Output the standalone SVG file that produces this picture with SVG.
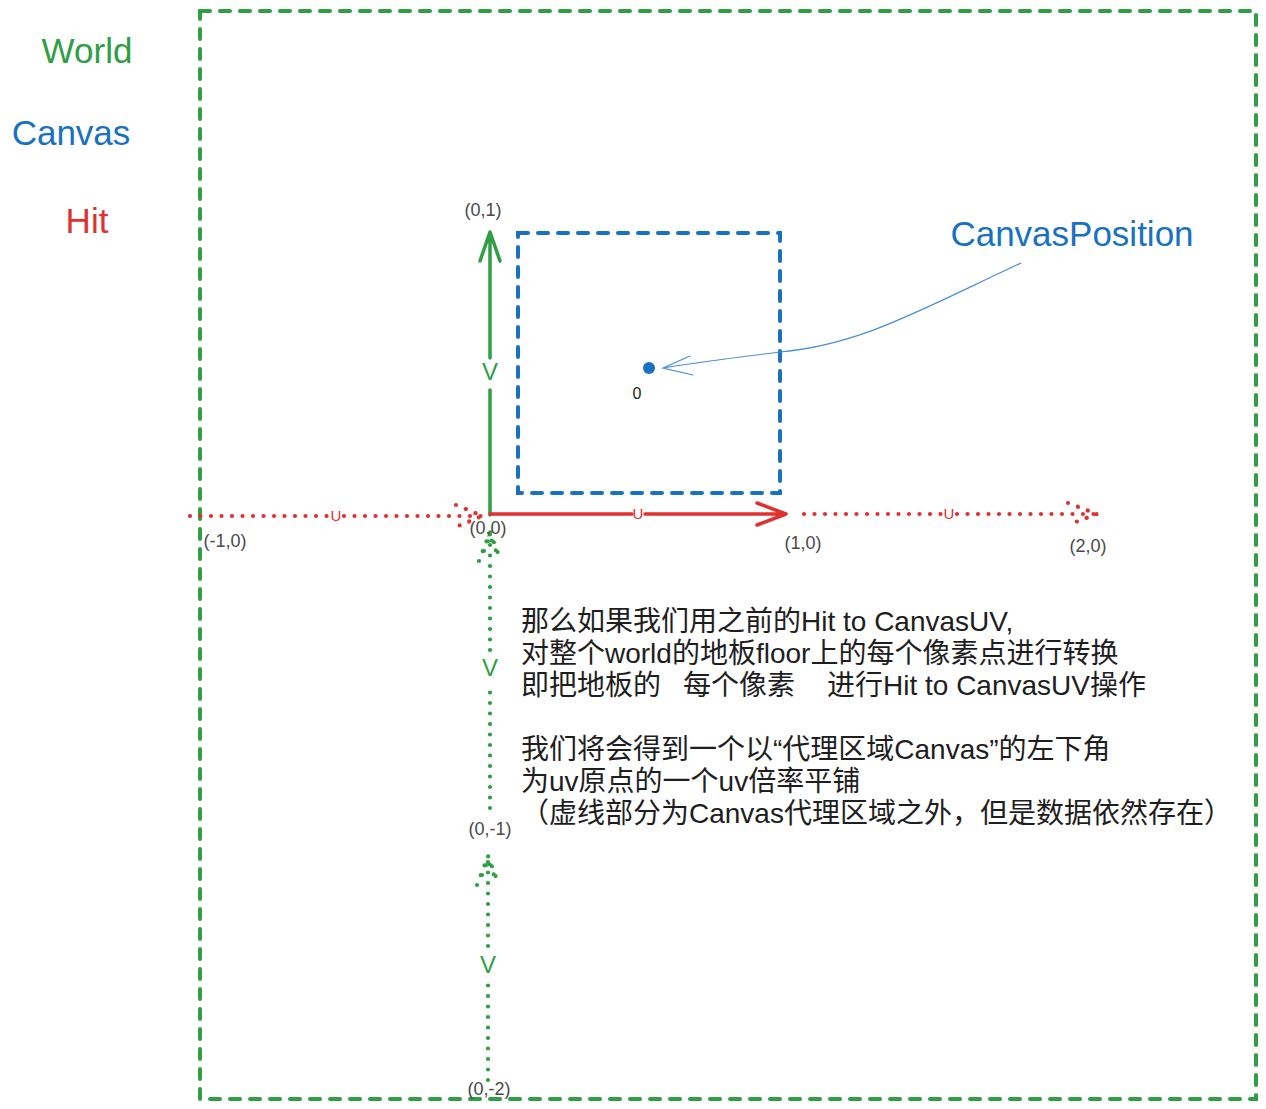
<svg xmlns="http://www.w3.org/2000/svg" width="1266" height="1109" viewBox="0 0 1266 1109">
<style>
text{font-family:"Liberation Sans","Noto Sans CJK SC",sans-serif}
.g{stroke:#2f9e44}.r{stroke:#e03131}.b{stroke:#1971c2}
.solid{fill:none;stroke-width:3.5;stroke-linecap:round;stroke-linejoin:round}
.dash{fill:none;stroke-width:4;stroke-linecap:round;stroke-dasharray:10 10}
.dot{fill:none;stroke-width:4.2;stroke-linecap:round;stroke-dasharray:0 10.5}
.coord{font-size:18px;fill:#4a4a4a;text-anchor:middle}
.lbl{font-size:35px;text-anchor:middle}
.main{font-size:28px;fill:#1e1e1e}
</style>
<rect width="1266" height="1109" fill="#fff"/>

<g id="legend">
<text class="lbl" x="87" y="63" fill="#2f9e44">World</text>
<text class="lbl" x="71" y="145" fill="#1971c2">Canvas</text>
<text class="lbl" x="87" y="233" fill="#e03131">Hit</text>
</g>

<g id="world">
<rect class="dash g" x="200" y="11" width="1056" height="1088"/>
</g>

<g id="canvas">
<rect class="dash b" x="518" y="233" width="262" height="260"/>
</g>

<g id="canvas-position">
<circle cx="649" cy="368" r="6" fill="#1971c2"/>
<text x="637" y="399" font-size="16" fill="#1e1e1e" text-anchor="middle">0</text>
<text x="1072" y="246" font-size="35" fill="#1971c2" text-anchor="middle">CanvasPosition</text>
</g>

<g id="connectors">
<!-- green solid V axis -->
<path class="solid g" d="M490,515 V390 M490,358 V232 M480,261 L490,232 L500,261"/>
<text x="490" y="380" font-size="24" fill="#2f9e44" text-anchor="middle">V</text>
<!-- red solid U axis -->
<path class="solid r" d="M490,514 H632 M645,514 H786 M757,503 L786,514 L757,525"/>
<text x="638" y="519" font-size="15" fill="#e03131" text-anchor="middle">U</text>
<!-- red dotted left -->
<path class="dot r" d="M190,516 H329 M344,516 H482 M456,505 L482,516 L456,527 M466,509 L482,516 L466,523"/>
<text x="336" y="521" font-size="15" fill="#e03131" text-anchor="middle">U</text>
<!-- red dotted right -->
<path class="dot r" d="M804,514 H942 M957,514 H1097 M1068,503 L1097,514 L1068,525 M1078,507 L1097,514 L1078,521"/>
<text x="949" y="519" font-size="15" fill="#e03131" text-anchor="middle">U</text>
<!-- green dotted lower 1 -->
<path class="dot g" d="M490,808 V684 M490,650 V532 M479,561 L490,532 L501,561 M484,551 L490,536 L496,551"/>
<text x="490" y="676" font-size="24" fill="#2f9e44" text-anchor="middle">V</text>
<!-- green dotted lower 2 -->
<path class="dot g" d="M488,1080 V980 M488,946 V856 M477,885 L488,856 L499,885 M482,875 L488,860 L494,875"/>
<text x="488" y="973" font-size="24" fill="#2f9e44" text-anchor="middle">V</text>
<!-- canvas position pointer -->
<path d="M1021,263 C920,310 860,345 780,352 C740,357 700,362 663,368 M690,356 L663,368 L693,375" fill="none" stroke="#4a8fd8" stroke-width="1.2" stroke-linecap="round"/>
</g>

<g id="coords">
<text class="coord" x="483" y="216">(0,1)</text>
<text class="coord" x="488" y="534">(0,0)</text>
<text class="coord" x="225" y="547">(-1,0)</text>
<text class="coord" x="803" y="549">(1,0)</text>
<text class="coord" x="1088" y="552">(2,0)</text>
<text class="coord" x="490" y="835">(0,-1)</text>
<text class="coord" x="489" y="1095">(0,-2)</text>
</g>

<g id="note">
<text class="main" x="521" y="631">那么如果我们用之前的Hit to CanvasUV,</text>
<text class="main" x="521" y="663">对整个world的地板floor上的每个像素点进行转换</text>
<text class="main" y="695"><tspan x="521">即把地板的</tspan><tspan x="683">每个像素</tspan><tspan x="827">进行Hit to CanvasUV操作</tspan></text>
<text class="main" x="521" y="759">我们将会得到一个以“代理区域Canvas”的左下角</text>
<text class="main" x="521" y="791">为uv原点的一个uv倍率平铺</text>
<text class="main" x="521" y="823">（虚线部分为Canvas代理区域之外，但是数据依然存在）</text>
</g>
</svg>
